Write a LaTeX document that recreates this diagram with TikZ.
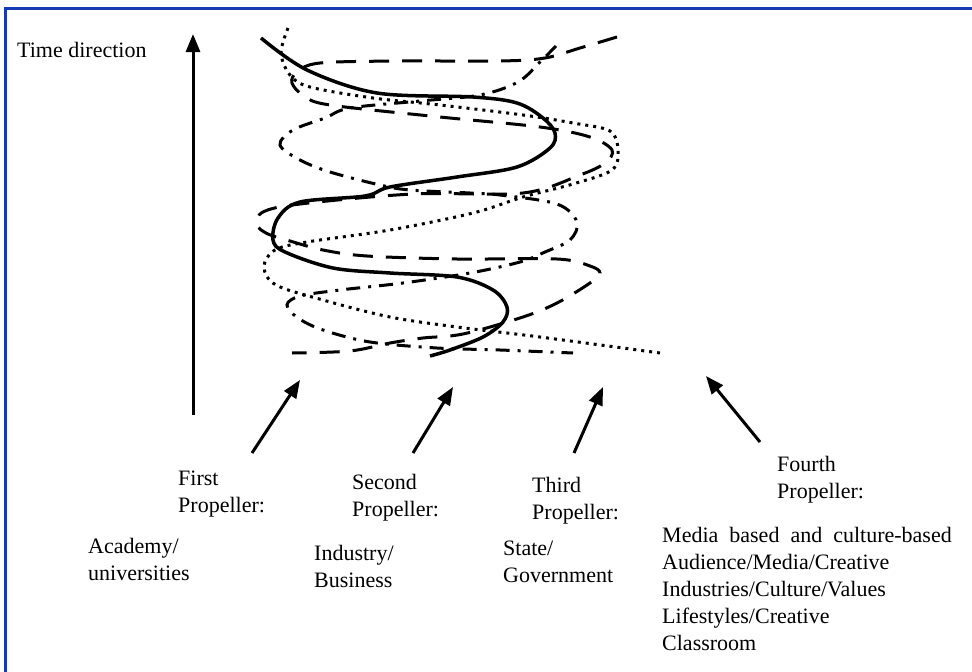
\documentclass[tikz,border=0pt]{standalone}
\usepackage{fontspec}
\setmainfont{Liberation Serif}
\usetikzlibrary{arrows.meta}
\definecolor{frameblue}{RGB}{22,58,178}
\begin{document}
\begin{tikzpicture}[x=1pt,y=-1pt,
  lbl/.style={anchor=base west, inner sep=0pt, font=\fontsize{22}{27}\selectfont},
  arr/.style={line width=3pt, -{Triangle[width=14pt,length=18pt]}},
  helix/.style={line width=3pt, smooth, tension=0.55},
  strand solid/.style={helix, line width=3.5pt},
  strand dashed/.style={helix, dash pattern=on 20pt off 13pt},
  strand dashdot/.style={helix, dash pattern=on 14pt off 8pt on 3pt off 8pt},
  strand dotted/.style={helix, dash pattern=on 3pt off 5pt}]
\useasboundingbox (0,0) rectangle (972,672);
\fill[white] (0,0) rectangle (972,672);
\draw[line width=3pt, frameblue] (5,672) -- (5,8) -- (972,8);

% helix strands
\draw[strand solid] plot coordinates {(261,38) (307,70) (377,93) (473,97) (517,103) (543,118) (555,133) (550,148) (517,167) (457,177) (390,187) (365,196) (300,202) (278,218) (273,240) (285,252) (333,268) (390,273) (457,277) (493,290) (507,307) (503,322) (483,337) (450,350) (430,356)};
\draw[strand dotted] plot coordinates {(288,28) (281,53) (290,75) (310,87) (373,98) (440,105) (523,115) (573,123) (610,131) (618,150) (612,170) (573,184) (523,197) (473,213) (390,230) (307,242) (275,250) (264,267) (276,285) (323,300) (390,317) (457,327) (540,337) (660,353)};
\draw[strand dashed] plot coordinates {(617,37) (580,48) (545,58) (500,61) (400,61) (320,63) (297,72) (292,83) (304,96) (330,105) (440,117) (540,127) (590,137) (612,150) (605,163) (580,175) (523,193) (413,194) (300,204) (263,212) (257,225) (268,234) (290,241) (323,250) (367,256) (457,259) (557,259) (590,266) (600,273) (590,283) (557,303) (523,317) (463,334) (423,338) (390,343) (350,351) (292,353)};
\draw[strand dashdot] plot coordinates {(556,46) (540,62) (518,82) (480,95) (420,101) (350,108) (325,118) (293,130) (280,145) (300,160) (330,172) (380,185) (410,190) (470,193) (500,195) (557,204) (577,222) (570,240) (545,252) (520,262) (470,273) (403,283) (340,290) (300,296) (287,305) (298,318) (323,330) (370,342) (437,348) (500,350) (573,353)};

% texts
\node[lbl] (time) at (17,57) {Time direction};
\node[lbl] (p1) at (178,485) {\begin{tabular}[t]{@{}l@{}}First\\Propeller:\end{tabular}};
\node[lbl] (p2) at (352,489) {\begin{tabular}[t]{@{}l@{}}Second\\Propeller:\end{tabular}};
\node[lbl] (p3) at (532,492) {\begin{tabular}[t]{@{}l@{}}Third\\Propeller:\end{tabular}};
\node[lbl] (p4) at (777,471) {\begin{tabular}[t]{@{}l@{}}Fourth\\Propeller:\end{tabular}};
\node[lbl] (d1) at (88,553) {\begin{tabular}[t]{@{}l@{}}Academy/\\universities\end{tabular}};
\node[lbl] (d2) at (314,560) {\begin{tabular}[t]{@{}l@{}}Industry/\\Business\end{tabular}};
\node[lbl] (d3) at (503,555) {\begin{tabular}[t]{@{}l@{}}State/\\Government\end{tabular}};
\node[lbl] (d4) at (662,542) {\begin{tabular}[t]{@{}l@{}}{\spaceskip=11pt Media based and culture-based}\\Audience/Media/Creative\\Industries/Culture/Values\\Lifestyles/Creative\\Classroom\end{tabular}};

% arrows
\coordinate (tA) at (193,415); \coordinate (hA) at (193,34);
\coordinate (t1) at (252,453); \coordinate (h1) at (300,380);
\coordinate (t2) at (413,453); \coordinate (h2) at (453,387);
\coordinate (t3) at (574,453); \coordinate (h3) at (603,387);
\coordinate (t4) at (760,442); \coordinate (h4) at (706,376);
\draw[arr] (tA) -- (hA);
\draw[arr] (t1) -- (h1);
\draw[arr] (t2) -- (h2);
\draw[arr] (t3) -- (h3);
\draw[arr] (t4) -- (h4);
\end{tikzpicture}
\end{document}
